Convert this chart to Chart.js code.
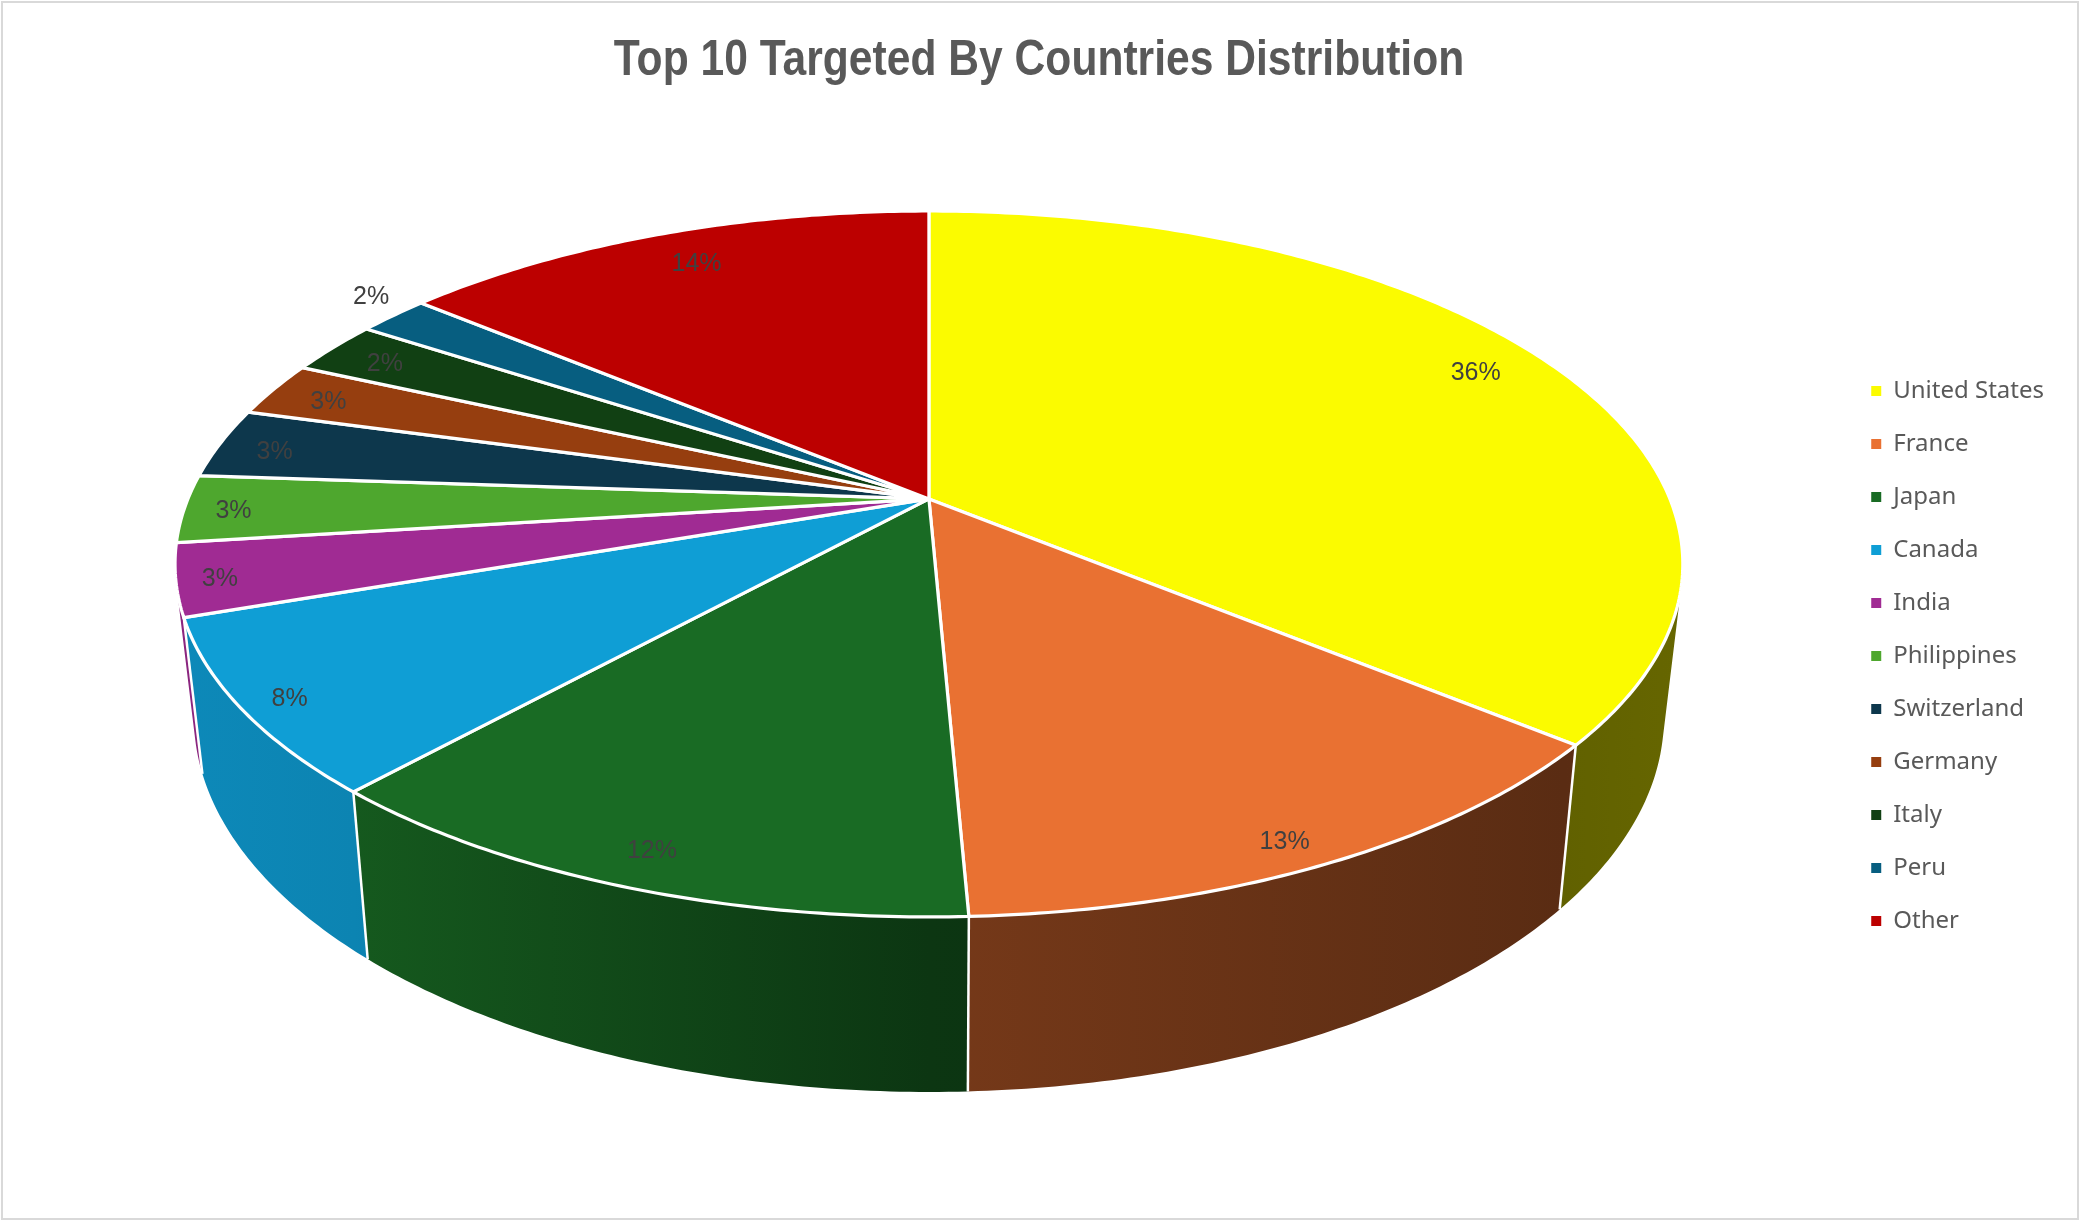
<!DOCTYPE html>
<html>
<head>
<meta charset="utf-8">
<style>html,body{margin:0;padding:0;background:#fff}#wrap{width:2080px;height:1225px;position:relative}</style>
<script src="https://cdn.jsdelivr.net/npm/chart.js@4"></script>
</head>
<body>
<div id="wrap"><canvas id="c" width="2080" height="1225"></canvas></div>
<script>
const categories = ["United States","France","Japan","Canada","India","Philippines","Switzerland","Germany","Italy","Peru","Other"];
const shares = [36, 13.3, 12.4, 8, 3.3, 3.1, 3.2, 2.5, 2.45, 1.85, 13.9];
const sliceColors = ["#FBFB00","#E97132","#196B24","#0F9ED5","#A02B93","#4EA72E","#0D374C","#963E0F","#114013","#075E80","#BC0000"];

// Style and projection settings for the tilted, perspective pie
const VIEW = {
  cxFrac: 0.4466, cyFrac: 0.4073,
  rx: 741, ay: 341, p: 0.1842,
  wallScaleX: 0.975, wallDepth: 175, wallSlope: 0.0625, frontY: 917,
  titleSqueeze: 0.852, titleShift: 12, legendShift: 47
};
const labelRadius = [0.89,0.93,0.915,0.94,0.945,0.945,0.92,0.92,0.89,1.0,0.72];
const labelNudge = [[-11,-5],[-7,8],[-4,3],[3,5],[1,4],[8,3],[-1,5],[5,4],[-9,1],[-22,-19],[-31,-36]];
const wallShadeStops = [[0,0.87],[0.12,0.84],[0.50,0.51],[0.92,0.39],[1,0.41]];

function project(chart, angle, r){
  const u = r*Math.cos(angle), v = r*Math.sin(angle);
  const w = 1 - VIEW.p*v;
  return {x: chart.width*VIEW.cxFrac + VIEW.rx*u/w, y: chart.height*VIEW.cyFrac + VIEW.ay*v/w};
}
function lower(chart, pt){
  const cx = chart.width*VIEW.cxFrac;
  return {x: cx + VIEW.wallScaleX*(pt.x-cx), y: pt.y + VIEW.wallDepth + VIEW.wallSlope*(pt.y-VIEW.frontY)};
}
function rimPoints(chart, a0, a1){
  const n = Math.max(4, Math.ceil((a1-a0)*90)), pts=[];
  for(let i=0;i<=n;i++) pts.push(project(chart, a0+(a1-a0)*i/n, 1));
  return pts;
}
function shade(hex,f){
  const n=parseInt(hex.slice(1),16);
  return `rgb(${((n>>16)&255)*f|0},${((n>>8)&255)*f|0},${(n&255)*f|0})`;
}
const pie3d = {
  id:'pie3d',
  beforeDraw(chart){
    const c=chart.ctx; c.save(); c.strokeStyle='#d9d9d9'; c.lineWidth=2;
    c.strokeRect(2,2,chart.width-4,chart.height-8); c.restore();
  },
  beforeDatasetDraw(chart, args){
    const c = chart.ctx, arcs = chart.getDatasetMeta(args.index).data;
    const xL = chart.width*VIEW.cxFrac - VIEW.rx*1.02, xR = chart.width*VIEW.cxFrac + VIEW.rx*1.02;
    c.save(); c.lineJoin='round';
    // walls, back slices first
    const order = arcs.map((a,i)=>i).sort((i,j)=>
      Math.sin((arcs[i].startAngle+arcs[i].endAngle)/2)-Math.sin((arcs[j].startAngle+arcs[j].endAngle)/2));
    order.forEach(i=>{
      const arc=arcs[i];
      const rim = rimPoints(chart, arc.startAngle, arc.endAngle);
      const g = c.createLinearGradient(xL,0,xR,0);
      wallShadeStops.forEach(s=>g.addColorStop(s[0], shade(sliceColors[i],s[1])));
      c.fillStyle=g; c.beginPath();
      for(let k=0;k<rim.length-1;k++){
        const q=[rim[k],rim[k+1],lower(chart,rim[k+1]),lower(chart,rim[k])];
        let area=0;
        q.forEach((p,m)=>{const n=q[(m+1)%4]; area+=p.x*n.y-n.x*p.y;});
        if(area<0) q.reverse();           // same winding everywhere, so one fill gives the union
        q.forEach((p,m)=>m?c.lineTo(p.x,p.y):c.moveTo(p.x,p.y));
        c.closePath();
      }
      c.fill();
    });
    // wall separators
    c.strokeStyle='#fff'; c.lineWidth=2.5;
    arcs.forEach(arc=>{
      if(Math.sin(arc.endAngle)>0.2){
        const a=project(chart,arc.endAngle,1), b=lower(chart,a);
        c.beginPath(); c.moveTo(a.x,a.y); c.lineTo(b.x,b.y); c.stroke();
      }
    });
    // tops
    c.lineWidth=3.2;
    const apex = project(chart,0,0);
    arcs.forEach((arc,i)=>{
      const rim = rimPoints(chart, arc.startAngle, arc.endAngle);
      c.fillStyle=sliceColors[i]; c.beginPath(); c.moveTo(apex.x,apex.y);
      rim.forEach(p=>c.lineTo(p.x,p.y)); c.closePath(); c.fill(); c.stroke();
    });
    c.restore();
    return false;
  },
  afterDatasetsDraw(chart){
    const c = chart.ctx, arcs = chart.getDatasetMeta(0).data;
    const total = shares.reduce((s,x)=>s+x,0);
    c.save(); c.font='25px "Liberation Sans"'; c.fillStyle='#404040';
    c.textAlign='center'; c.textBaseline='middle';
    arcs.forEach((arc,i)=>{
      const p=project(chart,(arc.startAngle+arc.endAngle)/2,labelRadius[i]);
      c.fillText(Math.round(shares[i]/total*100)+'%',p.x+labelNudge[i][0],p.y+labelNudge[i][1]);
    });
    c.restore();
  }
};
const chart = new Chart(document.getElementById('c'),{
  type:'pie',
  data:{labels:categories,datasets:[{data:shares,backgroundColor:sliceColors,borderColor:'#fff',borderWidth:0}]},
  plugins:[pie3d],
  options:{
    responsive:false,animation:false,
    layout:{padding:{left:0,right:26,top:0,bottom:7}},
    plugins:{
      tooltip:{enabled:false},
      title:{display:true,text:'Top 10 Targeted By Countries Distribution',color:'#595959',
        font:{family:'"Liberation Sans"',size:50,weight:'bold'},padding:{top:31,bottom:10}},
      legend:{position:'right',align:'center',labels:{color:'#595959',font:{family:'"Noto Sans"',size:24},
        boxWidth:10,boxHeight:10,padding:29}}
    }
  }
});
// The reference title is a condensed bold face: squeeze the library's own title horizontally
const drawTitle = chart.titleBlock.draw;
chart.titleBlock.draw = function(){
  const c=this.ctx, cx=(this.left+this.right)/2;
  c.save(); c.translate(cx+VIEW.titleShift,0); c.scale(VIEW.titleSqueeze,1); c.translate(-cx,0);
  drawTitle.call(this); c.restore();
};
// The reference legend sits lower than the centre of the canvas
const drawLegend = chart.legend.draw;
chart.legend.draw = function(){
  const c=this.ctx;
  c.save(); c.translate(0,VIEW.legendShift); drawLegend.call(this); c.restore();
};
chart.draw();
</script>
</body>
</html>
